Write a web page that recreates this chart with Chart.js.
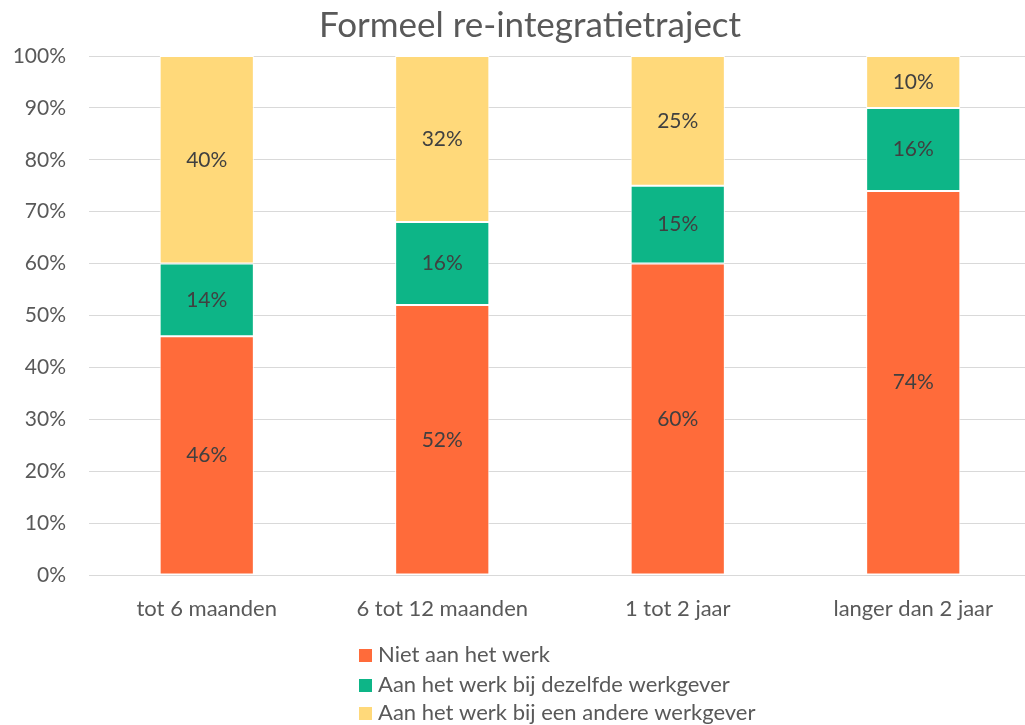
<!DOCTYPE html>
<html>
<head>
<meta charset="utf-8">
<script src="https://cdn.jsdelivr.net/npm/chart.js@4/dist/chart.umd.min.js"></script>
<style>
  html, body { margin: 0; padding: 0; background: #fff; overflow: hidden; }
  #wrap { width: 1060px; height: 725px; }
</style>
</head>
<body>
<div id="wrap"><canvas id="chart"></canvas></div>
<script>
  /* data */
  const categories = ['tot 6 maanden', '6 tot 12 maanden', '1 tot 2 jaar', 'langer dan 2 jaar'];
  const seriesNames = ['Niet aan het werk', 'Aan het werk bij dezelfde werkgever', 'Aan het werk bij een andere werkgever'];
  const nietAanWerk    = [46, 52, 60, 74];
  const zelfdeWerkgever = [14, 16, 15, 16];
  const andereWerkgever = [40, 32, 25, 10];
  const seriesColors = ['#FF6B3A', '#0DB587', '#FFD97A'];

  const FONT = "Lato, 'Open Sans', sans-serif";
  const TEXT = '#595959';

  /* labels in het midden van elk segment */
  const segmentLabels = {
    id: 'segmentLabels',
    afterDatasetsDraw(chart) {
      const ctx = chart.ctx;
      ctx.save();
      ctx.font = '21px ' + FONT;
      ctx.fillStyle = '#404040';
      ctx.textAlign = 'center';
      ctx.textBaseline = 'middle';
      chart.data.datasets.forEach((ds, i) => {
        chart.getDatasetMeta(i).data.forEach((bar, j) => {
          const y = (bar.y + bar.base) / 2;
          ctx.fillText(ds.data[j] + '%', bar.x, y);
        });
      });
      ctx.restore();
    }
  };

  /* legenda als verticale lijst, links uitgelijnd */
  const columnLegend = {
    id: 'columnLegend',
    afterDraw(chart) {
      const ctx = chart.ctx;
      ctx.save();
      ctx.font = '22px ' + FONT;
      ctx.textBaseline = 'middle';
      ctx.textAlign = 'left';
      const x0 = 359, rows = [655, 685, 713];
      chart.data.datasets.forEach((ds, i) => {
        ctx.fillStyle = ds.backgroundColor;
        ctx.fillRect(x0, rows[i] - 6, 13, 13);
        ctx.fillStyle = TEXT;
        ctx.fillText(ds.label, x0 + 19, rows[i]);
      });
      ctx.restore();
    }
  };

  const values = [nietAanWerk, zelfdeWerkgever, andereWerkgever];

  new Chart(document.getElementById('chart').getContext('2d'), {
    type: 'bar',
    data: {
      labels: categories,
      datasets: values.map((v, i) => ({
        label: seriesNames[i],
        data: v,
        backgroundColor: seriesColors[i],
        borderColor: '#ffffff',
        borderWidth: 1,
        borderSkipped: false,
        barPercentage: 0.4,
        categoryPercentage: 1,
      })),
    },
    options: {
      responsive: true,
      maintainAspectRatio: false,
      animation: false,
      layout: { padding: { left: 0, right: 0, top: 0, bottom: 100 } },
      plugins: {
        legend: { display: false },
        tooltip: { enabled: false },
        title: {
          display: true,
          text: 'Formeel re-integratietraject',
          color: TEXT,
          font: { family: FONT, size: 35, weight: 'normal' },
          padding: { top: 5, bottom: 9 },
        },
      },
      scales: {
        x: {
          stacked: true,
          grid: { display: false },
          border: { display: false },
          ticks: { color: TEXT, font: { family: FONT, size: 22 }, padding: 13, maxRotation: 0 },
          afterFit: (s) => { s.height = 50; },
        },
        y: {
          stacked: true,
          min: 0,
          max: 100,
          grid: { color: '#d9d9d9', lineWidth: 1, drawTicks: false },
          border: { display: false },
          ticks: {
            stepSize: 10,
            color: TEXT,
            font: { family: FONT, size: 21 },
            padding: 23,
            callback: (v) => v + '%',
          },
          afterFit: (s) => { s.width = 89; },
        },
        // lege ruimte rechts (grafiek loopt buiten beeld door)
        yRight: {
          position: 'right',
          min: 0,
          max: 100,
          grid: { display: false },
          border: { display: false },
          ticks: { display: false },
          afterFit: (s) => { s.width = 29; },
        },
      },
    },
    plugins: [segmentLabels, columnLegend],
  });
</script>
</body>
</html>
